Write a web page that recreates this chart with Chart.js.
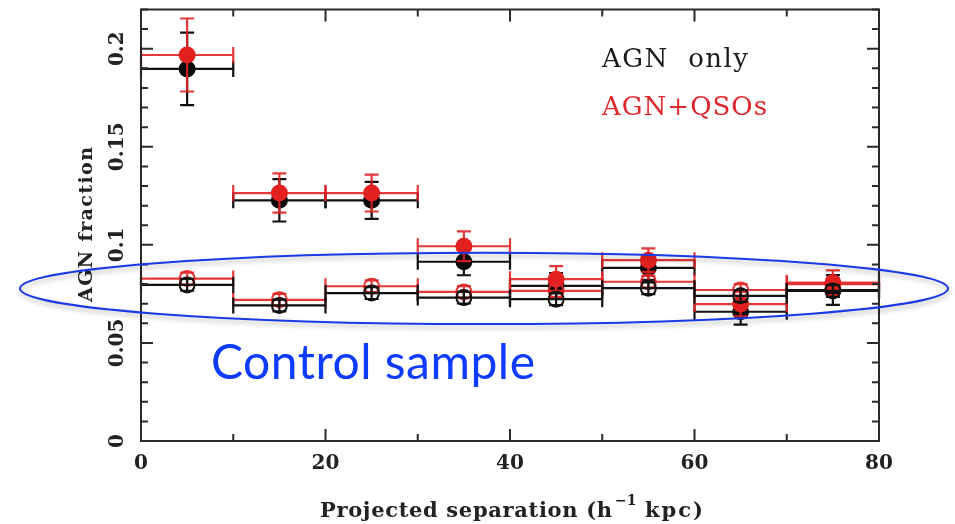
<!DOCTYPE html>
<html>
<head>
<meta charset="utf-8">
<script src="https://cdn.jsdelivr.net/npm/chart.js@4.4.1/dist/chart.umd.min.js"></script>
<style>
  html, body { margin: 0; padding: 0; background: #fff; }
  canvas { display: block; }
</style>
</head>
<body>
<canvas id="agn" width="955" height="524"></canvas>
<script>
// bins in projected separation (h^-1 kpc)
var binCenters = [5, 15, 25, 35, 45, 55, 65, 75];
var binHalfWidths = [5, 5, 5, 5, 5, 5, 5, 5];

// close pairs
var agnOnly = [0.1897, 0.1227, 0.1227, 0.0914, 0.0791, 0.0883, 0.0659, 0.0770];
var agnOnlyErr = [0.0185, 0.0108, 0.0094, 0.0069, 0.0065, 0.0062, 0.0066, 0.0076];
var agnQso = [0.1968, 0.1264, 0.1264, 0.0993, 0.0825, 0.0922, 0.0698, 0.0807];
var agnQsoErr = [0.0186, 0.0100, 0.0094, 0.0076, 0.0067, 0.0060, 0.0062, 0.0063];

// control sample
var controlAgnOnly = [0.0796, 0.0691, 0.0754, 0.0731, 0.0723, 0.0779, 0.0740, 0.0765];
var controlAgnQso = [0.0828, 0.0720, 0.0789, 0.0760, 0.0765, 0.0812, 0.0770, 0.0800];
var controlErr = [0.003, 0.003, 0.003, 0.003, 0.003, 0.003, 0.003, 0.003];

var xTicks = [0, 20, 40, 60, 80];
var yTickValues = [0, 0.05, 0.1, 0.15, 0.2];
var yTickLabels = ["0", "0.05", "0.1", "0.15", "0.2"];

var RED = "rgba(226,34,36,0.9)";
var BLACK = "#111";

function points(values) {
  return binCenters.map(function (x, i) { return { x: x, y: values[i] }; });
}

// draw text stretched to a given width with letter spacing
function spacedText(ctx, text, x, y, width) {
  ctx.letterSpacing = "0px";
  var w = ctx.measureText(text).width;
  var sp = (width - w) / Math.max(1, text.length - 1);
  ctx.letterSpacing = sp.toFixed(2) + "px";
  ctx.fillText(text, x, y);
  ctx.letterSpacing = "0px";
}

var errorBars = {
  id: "errorBars",
  beforeDatasetDraw: function (chart, args) {
    var ds = chart.data.datasets[args.index];
    var xs = chart.scales.x, ys = chart.scales.y, ctx = chart.ctx;
    ctx.save();
    ctx.strokeStyle = ds.borderColor;
    ctx.lineWidth = 2.2;
    ds.data.forEach(function (p, i) {
      var xc = xs.getPixelForValue(p.x);
      var x0 = xs.getPixelForValue(p.x - ds.xErr[i]);
      var x1 = xs.getPixelForValue(p.x + ds.xErr[i]);
      var y = ys.getPixelForValue(p.y);
      var yt = ys.getPixelForValue(p.y + ds.yErr[i]);
      var yb = ys.getPixelForValue(p.y - ds.yErr[i]);
      ctx.beginPath();
      ctx.moveTo(x0, y); ctx.lineTo(x1, y);
      ctx.moveTo(x0, y - 8); ctx.lineTo(x0, y + 8);
      ctx.moveTo(x1, y - 8); ctx.lineTo(x1, y + 8);
      ctx.moveTo(xc, yt); ctx.lineTo(xc, yb);
      ctx.moveTo(xc - 7, yt); ctx.lineTo(xc + 7, yt);
      ctx.moveTo(xc - 7, yb); ctx.lineTo(xc + 7, yb);
      ctx.stroke();
    });
    ctx.restore();
  }
};

var frame = {
  id: "frame",
  afterDatasetsDraw: function (chart) {
    var a = chart.chartArea, xs = chart.scales.x, ys = chart.scales.y, ctx = chart.ctx;
    ctx.save();
    ctx.strokeStyle = "#2a2a2a";
    ctx.lineWidth = 2;
    ctx.strokeRect(a.left, a.top, a.right - a.left, a.bottom - a.top);
    ctx.beginPath();
    for (var v = 0; v <= 80; v += 10) {
      var px = xs.getPixelForValue(v);
      var len = v % 20 === 0 ? 12 : 7;
      ctx.moveTo(px, a.bottom); ctx.lineTo(px, a.bottom - len);
      ctx.moveTo(px, a.top); ctx.lineTo(px, a.top + len);
    }
    for (var k = 0; k <= 22; k++) {
      var py = ys.getPixelForValue(k / 100);
      var l = k % 5 === 0 ? 12 : 7;
      ctx.moveTo(a.left, py); ctx.lineTo(a.left + l, py);
      ctx.moveTo(a.right, py); ctx.lineTo(a.right - l, py);
    }
    ctx.stroke();

    // y tick labels, rotated
    ctx.fillStyle = "#222";
    ctx.font = "bold 20px 'DejaVu Serif'";
    ctx.textAlign = "center";
    ctx.textBaseline = "middle";
    yTickValues.forEach(function (v, i) {
      ctx.save();
      ctx.translate(118, ys.getPixelForValue(v));
      ctx.rotate(-Math.PI / 2);
      ctx.fillText(yTickLabels[i], 0, 0);
      ctx.restore();
    });

    // axis titles
    ctx.textAlign = "left";
    ctx.textBaseline = "alphabetic";
    ctx.font = "bold 19px 'DejaVu Serif'";
    ctx.save();
    ctx.translate(92, 302);
    ctx.rotate(-Math.PI / 2);
    spacedText(ctx, "AGN fraction", 0, 0, 155);
    ctx.restore();

    ctx.font = "bold 21px 'DejaVu Serif'";
    spacedText(ctx, "Projected separation (h", 320, 517, 292);
    ctx.font = "bold 14px 'DejaVu Serif'";
    ctx.fillText("\u22121", 615, 505);
    ctx.font = "bold 21px 'DejaVu Serif'";
    spacedText(ctx, "kpc)", 645, 517, 58);

    // legend
    ctx.font = "26px 'DejaVu Serif'";
    ctx.fillStyle = "#1a1a1a";
    spacedText(ctx, "AGN  only", 602, 67, 146);
    ctx.fillStyle = "#e0282c";
    spacedText(ctx, "AGN+QSOs", 602, 115, 165);
    ctx.restore();
  },
  afterDraw: function (chart) {
    var ctx = chart.ctx;
    ctx.save();
    ctx.shadowColor = "rgba(0,0,0,0.3)";
    ctx.shadowBlur = 5;
    ctx.shadowOffsetX = 1;
    ctx.shadowOffsetY = 3;
    ctx.strokeStyle = "#1a3ae6";
    ctx.lineWidth = 2;
    ctx.beginPath();
    ctx.ellipse(484, 288.4, 464, 35.7, 0, 0, Math.PI * 2);
    ctx.stroke();
    ctx.restore();

    ctx.save();
    ctx.fillStyle = "#0d3bff";
    ctx.font = "48px Lato";
    ctx.textAlign = "left";
    spacedText(ctx, "Control sample", 211, 379, 324);
    ctx.restore();
  }
};

var ctx = document.getElementById("agn").getContext("2d");
var chart = new Chart(ctx, {
  type: "scatter",
  data: {
    datasets: [
      {
        label: "Control, AGN only",
        data: points(controlAgnOnly),
        xErr: binHalfWidths, yErr: controlErr,
        borderColor: BLACK, backgroundColor: "rgba(0,0,0,0)",
        pointRadius: 7.5, pointBorderWidth: 2
      },
      {
        label: "Control, AGN+QSOs",
        data: points(controlAgnQso),
        xErr: binHalfWidths, yErr: controlErr,
        borderColor: RED, backgroundColor: "rgba(0,0,0,0)",
        pointRadius: 7.5, pointBorderWidth: 2
      },
      {
        label: "AGN+QSOs",
        data: points(agnQso),
        xErr: binHalfWidths, yErr: agnQsoErr,
        borderColor: RED, backgroundColor: "#e2201f",
        pointRadius: 8.5, pointBorderWidth: 0
      },
      {
        label: "AGN only",
        data: points(agnOnly),
        xErr: binHalfWidths, yErr: agnOnlyErr,
        borderColor: BLACK, backgroundColor: "#0a0a0a",
        pointRadius: 8.5, pointBorderWidth: 0
      }
    ]
  },
  options: {
    responsive: false,
    animation: false,
    devicePixelRatio: 1,
    layout: { padding: { left: 0, top: 7, right: 76, bottom: 0 } },
    plugins: { legend: { display: false }, tooltip: { enabled: false } },
    scales: {
      x: {
        type: "linear", min: 0, max: 80,
        afterBuildTicks: function (s) { s.ticks = xTicks.map(function (v) { return { value: v }; }); },
        afterFit: function (s) { s.height = 83; },
        grid: { display: false, drawTicks: false },
        border: { display: false },
        ticks: {
          padding: 11, maxRotation: 0,
          color: "#222",
          font: { family: "DejaVu Serif", size: 20, weight: "bold" }
        }
      },
      y: {
        type: "linear", min: 0, max: 0.22,
        afterBuildTicks: function (s) { s.ticks = yTickValues.map(function (v) { return { value: v }; }); },
        afterFit: function (s) { s.width = 141; },
        grid: { display: false, drawTicks: false },
        border: { display: false },
        ticks: { display: false }
      }
    }
  },
  plugins: [errorBars, frame]
});
</script>
</body>
</html>
